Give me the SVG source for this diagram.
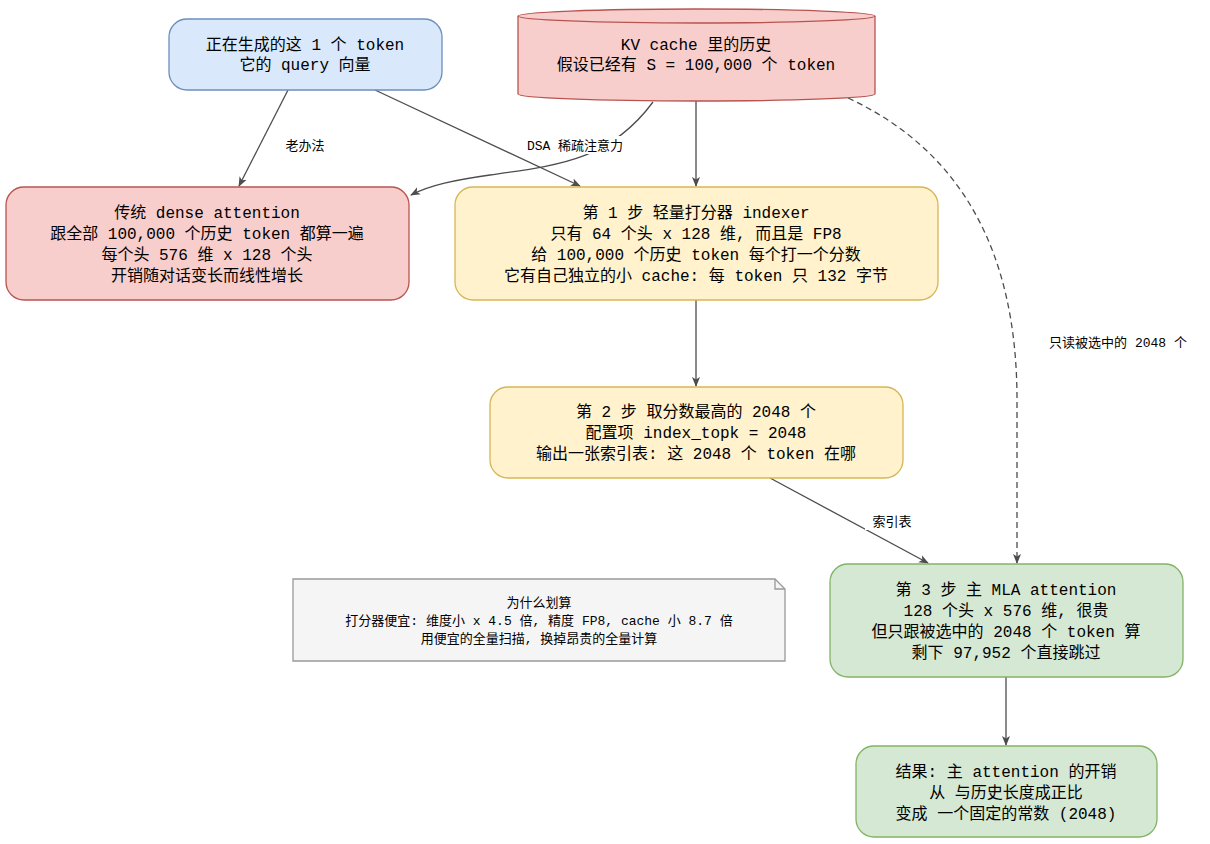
<svg xmlns="http://www.w3.org/2000/svg" width="1210" height="844" viewBox="0 0 1210 844">
<defs>
<marker id="ah" markerWidth="10" markerHeight="10" refX="9" refY="5" orient="auto" markerUnits="userSpaceOnUse"><path d="M0,1 L10,5 L0,9 L2.5,5 Z" fill="#4d4d4d"/></marker>
<style>
text{font-family:"Liberation Mono","Noto Sans CJK SC",monospace;fill:#000;text-anchor:middle}
.n{font-size:16px}
.l{font-size:13px}
.e{fill:none;stroke:#4d4d4d;stroke-width:1.3;marker-end:url(#ah)}
.blue{fill:#dae8fc;stroke:#6c8ebf;stroke-width:1.3}
.red{fill:#f8cecc;stroke:#b85450;stroke-width:1.3}
.yel{fill:#fff2cc;stroke:#d6b656;stroke-width:1.3}
.grn{fill:#d5e8d4;stroke:#82b366;stroke-width:1.3}
</style>
</defs>
<rect width="1210" height="844" fill="#fff"/>
<g id="edges">
<path class="e" d="M288,90 L239,186"/>
<path class="e" d="M375,90 L580,186"/>
<path class="e" d="M653,102 C610,160 560,165 490,175 C455,180 430,185 411,195"/>
<path class="e" d="M696,100 L696,186"/>
<path class="e" d="M848,98 C960,150 1017,250 1017,400 L1017,563" stroke-dasharray="6,4"/>
<path class="e" d="M696,300 L696,386"/>
<path class="e" d="M770,478 L928,563"/>
<path class="e" d="M1006,677 L1006,745"/>
<rect x="280" y="136" width="50" height="18" fill="#fff"/>
<text class="l" x="305" y="150">老办法</text>
<rect x="515" y="136" width="120" height="18" fill="#fff"/>
<text class="l" x="575" y="150">DSA 稀疏注意力</text>
<rect x="1035" y="333" width="166" height="18" fill="#fff"/>
<text class="l" x="1118" y="347">只读被选中的 2048 个</text>
<rect x="865" y="512" width="54" height="18" fill="#fff"/>
<text class="l" x="892" y="526">索引表</text>
</g>
<g id="query">
<rect class="blue" x="169" y="19" width="273" height="71" rx="18"/>
<text class="n" x="305" y="50">正在生成的这 1 个 token</text>
<text class="n" x="305" y="70">它的 query 向量</text>
</g>
<g id="kvcache">
<path class="red" d="M518,16 L518,94 A178.5,7 0 0 0 875,94 L875,16 A178.5,7 0 0 0 518,16 Z"/>
<path d="M518,16 A178.5,7 0 0 0 875,16" fill="none" stroke="#b85450" stroke-width="1.3"/>
<text class="n" x="696" y="50">KV cache 里的历史</text>
<text class="n" x="696" y="70">假设已经有 S = 100,000 个 token</text>
</g>
<g id="dense">
<rect class="red" x="6" y="187" width="403" height="113" rx="18"/>
<text class="n" x="207" y="218">传统 dense attention</text>
<text class="n" x="207" y="239">跟全部 100,000 个历史 token 都算一遍</text>
<text class="n" x="207" y="260">每个头 576 维 x 128 个头</text>
<text class="n" x="207" y="281">开销随对话变长而线性增长</text>
</g>
<g id="step1">
<rect class="yel" x="455" y="187" width="483" height="113" rx="18"/>
<text class="n" x="696" y="218">第 1 步  轻量打分器 indexer</text>
<text class="n" x="696" y="239">只有 64 个头 x 128 维, 而且是 FP8</text>
<text class="n" x="696" y="260">给 100,000 个历史 token 每个打一个分数</text>
<text class="n" x="696" y="281">它有自己独立的小 cache: 每 token 只 132 字节</text>
</g>
<g id="step2">
<rect class="yel" x="490" y="387" width="413" height="91" rx="18"/>
<text class="n" x="696" y="417">第 2 步  取分数最高的 2048 个</text>
<text class="n" x="696" y="438">配置项 index_topk = 2048</text>
<text class="n" x="696" y="459">输出一张索引表: 这 2048 个 token 在哪</text>
</g>
<g id="step3">
<rect class="grn" x="830" y="564" width="353" height="113" rx="18"/>
<text class="n" x="1006" y="595">第 3 步  主 MLA attention</text>
<text class="n" x="1006" y="616">128 个头 x 576 维, 很贵</text>
<text class="n" x="1006" y="637">但只跟被选中的 2048 个 token 算</text>
<text class="n" x="1006" y="658">剩下 97,952 个直接跳过</text>
</g>
<g id="result">
<rect class="grn" x="856" y="746" width="301" height="91" rx="18"/>
<text class="n" x="1006" y="777">结果: 主 attention 的开销</text>
<text class="n" x="1006" y="798">从 与历史长度成正比</text>
<text class="n" x="1006" y="819">变成 一个固定的常数 (2048)</text>
</g>
<g id="note">
<path d="M293,579 L775,579 L785,589 L785,661 L293,661 Z" fill="#f5f5f5" stroke="#999" stroke-width="1.3"/>
<path d="M775,579 L775,589 L785,589" fill="none" stroke="#999" stroke-width="1.3"/>
<text class="l" x="539" y="607">为什么划算</text>
<text class="l" x="539" y="625">打分器便宜: 维度小 x 4.5 倍, 精度 FP8, cache 小 8.7 倍</text>
<text class="l" x="539" y="643">用便宜的全量扫描, 换掉昂贵的全量计算</text>
</g>
</svg>
